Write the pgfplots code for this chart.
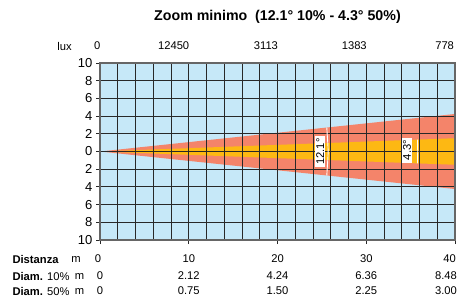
\documentclass[border=0pt]{standalone}
\usepackage{fontspec}
\setmainfont{Liberation Sans}
\usepackage{pgfplots}
\pgfplotsset{compat=1.18}
\definecolor{bgblue}{RGB}{198,232,248}
\definecolor{conered}{RGB}{244,132,106}
\definecolor{coneorange}{RGB}{253,184,19}
\definecolor{gridc}{RGB}{40,40,40}
\begin{document}
\begin{tikzpicture}[font=\fontsize{11.2}{13}\selectfont]
\begin{axis}[at={(0,0)}, anchor=south west, scale only axis,
  width=355pt, height=177pt,
  xmin=0, xmax=40, ymin=-10, ymax=10,
  axis background/.style={fill=bgblue},
  axis on top,
  xtick={0,10,20,30,40}, xticklabels={},
  minor xtick={2,4,...,38},
  ytick={-10,-8,...,10}, yticklabels={10,8,6,4,2,0,2,4,6,8,10},
  yticklabel style={font=\fontsize{13}{15}\selectfont, inner sep=1.5pt, xshift=-2pt},
  grid=both,
  major grid style={gridc, line width=0.9pt},
  minor grid style={gridc, line width=0.9pt},
  tick align=outside, major tick length=4pt, minor tick length=0pt,
  tick style={gridc, line width=0.9pt},
  xtick pos=bottom, ytick pos=left,
  axis line style={black!60, line width=1.4pt},
  clip=true]
\addplot[fill=conered, draw=none] coordinates {(0,0) (40,4.24) (40,-4.24) (0,0)};
\addplot[fill=coneorange, draw=none] coordinates {(0,0) (40,1.50) (40,-1.50) (0,0)};
\coordinate (A) at (axis cs:24.8,0);
\coordinate (B) at (axis cs:34.6,0.15);
\coordinate (A1) at (axis cs:25.56,-2.71);
\coordinate (A0) at (axis cs:25.7,0);
\coordinate (A2) at (axis cs:25.56,2.71);
\coordinate (B1) at (axis cs:35.77,-1.34);
\coordinate (B0) at (axis cs:35.8,0);
\coordinate (B2) at (axis cs:35.77,1.34);
\end{axis}
% cone angle markers
\draw[white, line width=0.9pt] (A1) .. controls +(0.25pt,8pt) and +(0pt,-8pt) .. (A0) .. controls +(0pt,8pt) and +(0.25pt,-8pt) .. (A2);
\draw[white, line width=0.9pt] (B1) -- (B0) -- (B2);
\node[fill=white, rotate=90, inner xsep=2.5pt, inner ysep=1.2pt] at (A) {12.1°};
\node[fill=white, rotate=90, inner xsep=2.5pt, inner ysep=1.2pt] at (B) {4.3°};
% title
\node[font=\fontsize{14.2}{16}\selectfont\bfseries] at (177.5pt,223.5pt) {Zoom minimo\ \ (12.1° 10\% - 4.3° 50\%)};
% lux row
\node at (-35.5pt,194pt) {lux};
\foreach \x/\l/\s in {0/0/0, 10/12450/0, 20/3113/0, 30/1383/0, 40/778/-1.5} {
  \node[anchor=east] at ({\x*8.875pt+4pt+\s pt},194pt) {\l};
}
% bottom rows
\node[anchor=west] at (-91pt,-19pt) {\textbf{Distanza}};
\node at (-24pt,-19pt) {m};
\node[anchor=west] at (-91pt,-36pt) {\textbf{Diam.} 10\%};
\node at (-20.5pt,-36pt) {m};
\node[anchor=west] at (-91pt,-51pt) {\textbf{Diam.} 50\%};
\node at (-20.5pt,-51pt) {m};
\foreach \x/\a/\b/\c/\s/\t in {0/0/0/0/-2/0, 10/10/2.12/0.75/0/0, 20/20/4.24/1.50/0/0, 30/30/6.36/2.25/0/0, 40/40/8.48/3.00/-5.5/-9} {
  \node at ({\x*8.875pt+\s pt},-19pt) {\a};
  \node at ({\x*8.875pt+\t pt},-36pt) {\b};
  \node at ({\x*8.875pt+\t pt},-51pt) {\c};
}
\pgfresetboundingbox
\path[use as bounding box] (-100pt,-58pt) rectangle (357pt,240pt);
\end{tikzpicture}
\end{document}
